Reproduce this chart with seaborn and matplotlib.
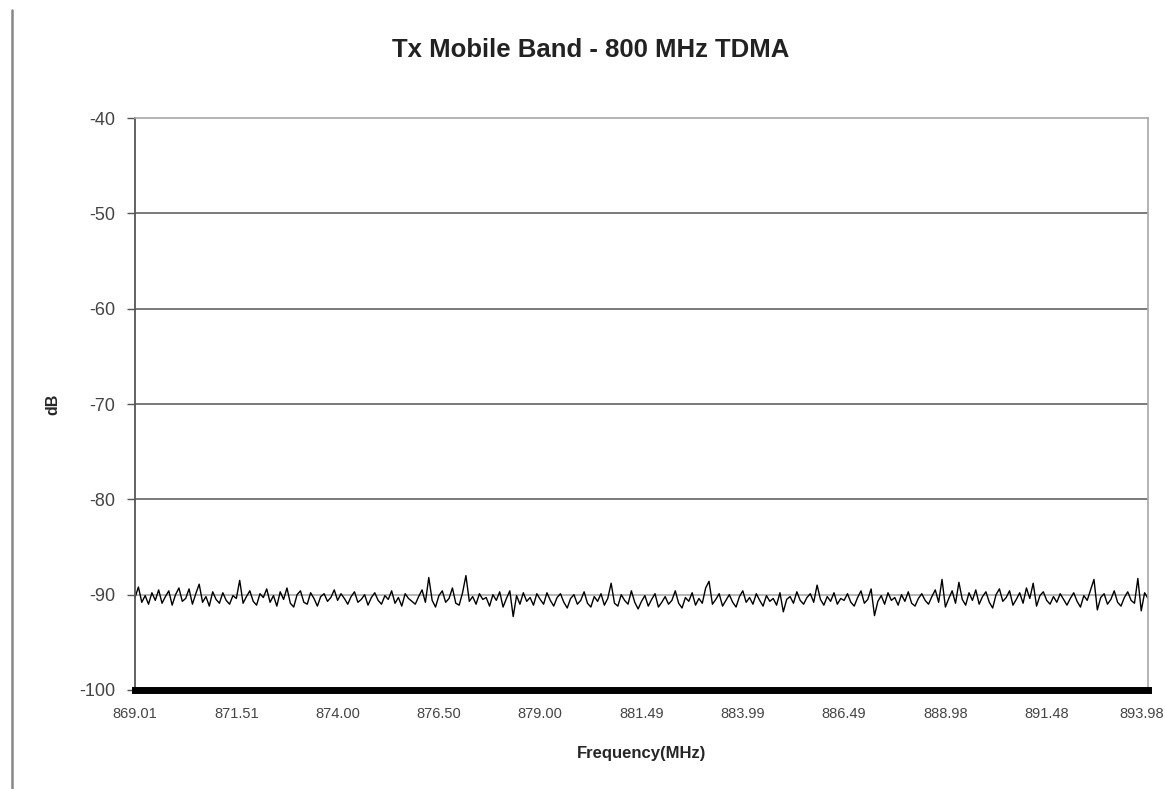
import numpy as np
import pandas as pd
import seaborn as sns
import matplotlib.pyplot as plt
from matplotlib.lines import Line2D

# niveau (dB), 30 points entre deux graduations
seg1 = [-90.3, -89.2, -90.8, -90.1, -91.0, -89.8, -90.6, -89.5, -90.9, -90.2, -89.6, -91.1, -90.0, -89.3, -90.7,
        -90.4, -89.4, -91.0, -89.9, -88.9, -90.8, -90.2, -91.2, -89.7, -90.5, -90.9, -89.8, -90.6, -91.0, -90.1]
seg2 = [-90.4, -88.5, -90.9, -90.2, -89.6, -90.7, -91.1, -89.9, -90.3, -89.4, -90.8, -90.1, -91.2, -89.7, -90.5,
        -89.3, -90.9, -91.3, -90.0, -89.6, -90.8, -91.0, -89.8, -90.4, -91.2, -90.2, -89.9, -90.7, -90.3, -89.5]
seg3 = [-90.6, -89.9, -90.4, -91.0, -90.2, -89.7, -90.8, -90.5, -90.0, -91.1, -90.3, -89.8, -90.6, -91.0, -90.1,
        -90.5, -89.6, -90.9, -90.3, -91.2, -89.9, -90.4, -90.7, -91.0, -90.2, -89.5, -90.8, -88.2, -90.6, -91.3]
seg4 = [-90.1, -89.6, -90.8, -90.4, -89.3, -90.9, -91.1, -89.8, -88.0, -90.7, -90.2, -91.0, -89.9, -90.5, -90.3,
        -91.2, -90.0, -90.6, -89.7, -91.3, -90.4, -89.6, -92.3, -90.1, -91.0, -89.8, -90.7, -90.3, -91.1, -89.9]
seg5 = [-90.5, -91.0, -89.8, -90.6, -91.2, -90.3, -89.9, -90.8, -91.4, -90.4, -90.0, -91.0, -90.6, -89.7, -90.9,
        -91.3, -90.2, -90.7, -89.9, -91.1, -90.4, -88.8, -90.9, -91.2, -90.0, -90.6, -91.0, -89.6, -90.8, -91.5]
seg6 = [-90.7, -90.1, -91.2, -90.5, -89.9, -91.3, -90.8, -90.2, -91.0, -90.6, -89.6, -90.9, -91.4, -90.3, -90.7,
        -89.8, -91.1, -90.4, -90.9, -89.3, -88.6, -91.0, -90.5, -89.9, -91.2, -90.6, -90.0, -90.8, -91.3, -90.2]
seg7 = [-89.6, -90.8, -90.3, -91.0, -89.9, -90.6, -91.2, -90.1, -90.7, -90.4, -91.1, -89.8, -91.8, -90.5, -90.2,
        -90.9, -89.7, -90.6, -91.0, -90.3, -89.9, -90.8, -89.0, -90.5, -91.1, -90.2, -90.7, -89.8, -91.0, -90.4]
seg8 = [-90.6, -89.9, -90.8, -91.2, -90.3, -89.6, -90.9, -90.5, -89.4, -92.2, -90.7, -90.1, -91.0, -89.8, -90.6,
        -90.3, -91.1, -90.0, -90.7, -89.7, -90.9, -91.2, -90.4, -89.9, -90.6, -91.0, -90.2, -89.5, -90.8, -88.4]
seg9 = [-91.3, -90.4, -89.6, -90.9, -88.7, -90.5, -91.1, -89.8, -90.6, -89.5, -91.0, -90.2, -89.7, -90.8, -91.4,
        -90.0, -89.4, -90.7, -90.3, -89.6, -91.1, -90.5, -89.8, -90.9, -89.3, -90.4, -88.8, -91.2, -90.1, -89.7]
seg10 = [-90.6, -91.0, -90.2, -90.8, -89.9, -90.5, -91.1, -90.4, -89.8, -90.7, -91.3, -90.1, -90.6, -89.5, -88.4,
         -91.6, -90.3, -89.9, -91.0, -90.5, -89.6, -90.8, -91.2, -90.3, -89.7, -90.6, -90.9, -88.3, -91.7, -89.8,
         -90.4]

freq_labels = ['869.01', '871.51', '874.00', '876.50', '879.00', '881.49',
               '883.99', '886.49', '888.98', '891.48', '893.98']
y_ticks = [-100, -90, -80, -70, -60, -50, -40]

niveau = seg1 + seg2 + seg3 + seg4 + seg5 + seg6 + seg7 + seg8 + seg9 + seg10
df = pd.DataFrame({'idx': range(len(niveau)), 'dB': niveau})
pas = (len(niveau) - 1) // (len(freq_labels) - 1)

sns.set_style('white')
plt.rcParams['font.family'] = ['Liberation Sans', 'DejaVu Sans']
plt.rcParams['axes.unicode_minus'] = False

fig = plt.figure(figsize=(11.65, 7.89), dpi=100)
ax = fig.add_axes([0.1159, 0.1255, 0.8695, 0.7249])

# grille horizontale type Excel
for v in y_ticks[1:-1]:
    ax.axhline(v, color='#6f6f6f' if v != -90 else '#b0b0b0', lw=1.3, zorder=0)

sns.lineplot(data=df, x='idx', y='dB', color='black', lw=1.0, ax=ax)

ax.set_xlim(0, len(niveau) - 1)
ax.set_ylim(-100, -40)
ax.set_yticks(y_ticks)
ax.set_yticklabels([str(v) for v in y_ticks], fontsize=13, color='#444444')
ax.set_xticks(range(0, len(niveau), pas))
# le dernier libellé est posé à part, collé au bord droit comme sur l'original
ax.set_xticklabels(freq_labels[:-1] + [''], fontsize=10.5, color='#444444')
ax.annotate(freq_labels[-1], xy=(1, 0), xycoords='axes fraction', xytext=(16, -17),
            textcoords='offset pixels', ha='right', va='top', fontsize=10.5, color='#444444')
ax.tick_params(axis='y', length=6, width=1, color='#555555', pad=8, left=True)
ax.tick_params(axis='x', length=0, pad=12)

for s in ['top', 'right']:
    ax.spines[s].set_color('#a8a8a8')
    ax.spines[s].set_linewidth(1.2)
ax.spines['left'].set_color('#555555')
ax.spines['left'].set_linewidth(1.3)
ax.spines['bottom'].set_color('black')
ax.spines['bottom'].set_linewidth(5)

ax.set_xlabel('Frequency(MHz)', fontsize=12, fontweight='bold', va='top')
ax.xaxis.set_label_coords(0.5, -0.098)
ax.set_ylabel('dB', fontsize=11.5, fontweight='bold')
ax.yaxis.set_label_coords(-0.074, 0.5)
fig.text(0.507, 0.937, 'Tx Mobile Band - 800 MHz TDMA', ha='center', va='center',
         fontsize=18.5, fontweight='bold', color='#222222')

# bord de page à gauche
fig.add_artist(Line2D([0.0107, 0.0107], [0.0, 0.987], color='#888888', lw=1.8))

fig.savefig('out.png', dpi=100, facecolor='white')
